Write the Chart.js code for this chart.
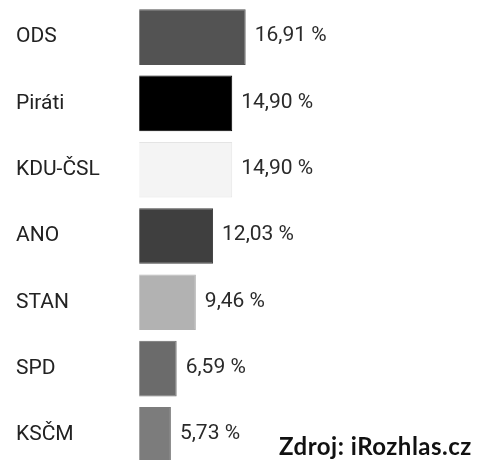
<!DOCTYPE html>
<html>
<head>
<meta charset="utf-8">
<script src="https://cdn.jsdelivr.net/npm/chart.js@4/dist/chart.umd.min.js"></script>
<style>
  html, body { margin: 0; padding: 0; background: #fff; overflow: hidden; }
  #wrap { position: relative; width: 487px; height: 472px; }
</style>
</head>
<body>
<div id="wrap"><canvas id="chart_vysledky"></canvas></div>
<script>
var strany = ['ODS', 'Piráti', 'KDU-ČSL', 'ANO', 'STAN', 'SPD', 'KSČM'];
var hlasy = [16.91, 14.90, 14.90, 12.03, 9.46, 6.59, 5.73];
var barvy = ['#535353', '#000000', '#f4f4f4', '#3f3f3f', '#b2b2b2', '#6b6b6b', '#7c7c7c'];
var okraje = ['#535353', '#000000', '#e4e4e4', '#3f3f3f', '#b2b2b2', '#6b6b6b', '#7c7c7c'];
var zdroj = 'Zdroj: iRozhlas.cz';

function formatPct(v) {
    return v.toFixed(2).replace('.', ',') + ' %';
}

var chart_vysledky = new Chart(document.getElementById('chart_vysledky'), {
    type: 'bar',
    data: {
        labels: strany,
        datasets: [
            {
                label: 'Výsledek',
                data: hlasy,
                backgroundColor: barvy,
                borderColor: okraje,
                borderWidth: 1,
                barPercentage: 0.84,
                categoryPercentage: 1
            }
        ]
    },
    options: {
        indexAxis: 'y',
        animation: false,
        responsive: true,
        maintainAspectRatio: false,
        layout: {
            padding: { left: 16, right: 0, top: 3, bottom: 2 }
        },
        plugins: {
            legend: { display: false },
            tooltip: { enabled: false }
        },
        scales: {
            x: {
                display: false,
                min: 1,
                max: 53
            },
            y: {
                grid: { display: false },
                border: { display: false },
                ticks: {
                    color: '#222',
                    crossAlign: 'far',
                    // tiny lineHeight so the labels don't add padding above/below the bars
                    font: { family: 'Roboto', size: 21, lineHeight: 0.1 }
                },
                afterFit: function (scale) {
                    scale.width = 123.3;
                }
            }
        }
    },
    plugins: [{
        id: 'popisky',
        afterDatasetsDraw: (chart) => {
            const ctx = chart.ctx;
            const meta = chart.getDatasetMeta(0);
            ctx.save();
            ctx.font = '21px Roboto';
            ctx.fillStyle = '#2a2a2a';
            ctx.textAlign = 'left';
            ctx.textBaseline = 'middle';
            meta.data.forEach((bar, i) => {
                ctx.fillText(formatPct(hlasy[i]), bar.x + 9, bar.y - 1);
            });
            ctx.font = 'bold 24px Lato';
            ctx.fillStyle = '#111';
            ctx.textBaseline = 'alphabetic';
            ctx.letterSpacing = '0.5px';
            ctx.fillText(zdroj, 279, 455);
            ctx.restore();
        }
    }, {
        id: 'pozadi',
        beforeDraw: (chart) => {
            const ctx = chart.canvas.getContext('2d');
            ctx.save();
            ctx.globalCompositeOperation = 'destination-over';
            ctx.fillStyle = 'white';
            ctx.fillRect(0, 0, chart.canvas.width, chart.canvas.height);
            ctx.restore();
        }
    }]
});
</script>
</body>
</html>
